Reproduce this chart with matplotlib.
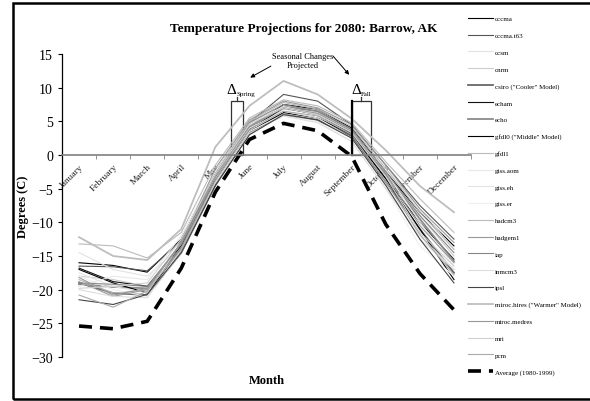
import matplotlib
matplotlib.use("Agg")
import matplotlib.pyplot as plt
from matplotlib.patches import Rectangle

plt.rcParams['font.family'] = ['Liberation Serif', 'DejaVu Serif']

months = ["January", "February", "March", "April", "May", "June", "July",
          "August", "September", "October", "November", "December"]

# model projections for 2080 (deg C)
models = ["cccma", "cccma.t63", "ccsm", "cnrm", "csiro (\"Cooler\" Model)", "echam",
          "echo", "gfdl0 (\"Middle\" Model)", "gfdl1", "giss.aom", "giss.eh", "giss.er",
          "hadcm3", "hadgem1", "iap", "inmcm3", "ipsl", "miroc.hires (\"Warmer\" Model)",
          "miroc.medres", "mri", "pcm"]

cccma = [-16.0, -16.4, -17.4, -12.5, -3.0, 4.0, 7.5, 6.8, 4.0, -2.5, -8.5, -13.5]
cccma_t63 = [-16.5, -16.6, -17.2, -12.8, -2.5, 4.8, 9.0, 8.0, 4.5, -1.5, -7.5, -12.5]
ccsm = [-14.5, -17.0, -18.0, -13.5, -3.0, 4.5, 7.0, 6.0, 3.0, -2.0, -8.0, -14.0]
cnrm = [-18.0, -18.5, -19.5, -14.0, -3.5, 4.0, 6.8, 6.2, 3.5, -3.0, -9.0, -15.0]
csiro = [-19.0, -20.5, -20.8, -14.5, -4.5, 3.2, 6.0, 5.2, 2.8, -4.0, -11.0, -17.5]
echam = [-16.8, -18.8, -19.5, -13.5, -3.8, 3.8, 7.0, 6.0, 3.2, -3.5, -10.0, -15.5]
echo = [-19.2, -19.6, -19.8, -13.8, -3.2, 4.2, 7.2, 6.5, 3.8, -2.8, -9.5, -15.8]
gfdl0 = [-17.0, -19.0, -20.5, -14.0, -4.0, 3.5, 6.3, 5.5, 3.0, -3.5, -11.0, -18.5]
gfdl1 = [-18.5, -20.5, -20.0, -13.0, -2.5, 5.0, 7.8, 6.8, 4.2, -2.0, -8.5, -14.0]
giss_aom = [-19.5, -18.0, -18.5, -12.0, -2.5, 4.8, 7.2, 6.0, 3.5, -2.5, -10.0, -16.5]
giss_eh = [-17.5, -19.5, -20.5, -13.0, -3.0, 4.0, 6.5, 5.5, 2.5, -4.5, -12.5, -17.0]
giss_er = [-18.0, -20.0, -21.0, -14.0, -4.0, 3.5, 6.0, 5.0, 2.0, -5.0, -13.5, -18.0]
hadcm3 = [-13.2, -13.5, -15.3, -11.5, -1.5, 5.5, 8.2, 7.3, 4.8, -1.0, -6.5, -11.5]
hadgem1 = [-18.8, -21.0, -20.0, -13.0, -3.0, 4.2, 7.0, 6.2, 3.5, -3.0, -10.5, -16.0]
iap = [-19.0, -19.2, -19.5, -13.2, -2.8, 4.8, 7.5, 6.5, 3.8, -2.5, -9.0, -14.5]
inmcm3 = [-20.0, -21.0, -21.2, -14.5, -4.2, 3.2, 5.8, 4.8, 2.0, -5.0, -12.0, -17.0]
ipsl = [-21.5, -22.2, -20.7, -14.5, -4.5, 3.0, 6.0, 5.2, 2.5, -4.5, -12.5, -19.0]
miroc_hires = [-12.2, -15.0, -15.6, -11.0, 1.2, 7.3, 11.0, 9.0, 5.4, 0.7, -4.6, -8.5]
miroc_medres = [-18.2, -20.8, -19.8, -13.0, -2.0, 5.2, 8.0, 7.0, 4.5, -1.5, -8.0, -13.0]
mri = [-19.8, -19.5, -19.0, -12.5, -2.8, 4.6, 7.0, 6.0, 3.3, -3.2, -11.5, -16.5]
pcm = [-20.8, -22.6, -20.2, -14.0, -3.8, 3.8, 6.5, 5.8, 3.0, -4.0, -11.8, -17.8]

average = [-25.4, -25.8, -24.7, -16.8, -5.5, 2.3, 4.7, 3.6, -0.2, -10.3, -17.6, -23.0]

series = [cccma, cccma_t63, ccsm, cnrm, csiro, echam, echo, gfdl0, gfdl1, giss_aom,
          giss_eh, giss_er, hadcm3, hadgem1, iap, inmcm3, ipsl, miroc_hires,
          miroc_medres, mri, pcm]
colors = ["#000000", "#555555", "#e2e2e2", "#cccccc", "#666666", "#111111",
          "#8a8a8a", "#000000", "#bbbbbb", "#e8e8e8", "#e4e4e4", "#eeeeee",
          "#bbbbbb", "#999999", "#888888", "#dddddd", "#444444", "#bdbdbd",
          "#999999", "#d0d0d0", "#aaaaaa"]
widths = [1.0, 1.0, 1.0, 1.0, 1.6, 1.0, 1.6, 1.0, 1.0, 1.0, 1.0, 1.0,
          1.0, 1.0, 1.0, 1.0, 1.0, 1.6, 1.0, 1.0, 1.0]

fig = plt.figure(figsize=(5.9, 4.02), dpi=100)
ax = fig.add_axes([62/590, 1-358/402, (471-62)/590, (358-55)/402])

x = list(range(len(months)))
for name, vals, c, w in zip(models, series, colors, widths):
    ax.plot(x, vals, color=c, lw=w*0.8, label=name)
ax.plot(x, average, color="black", lw=2.6, dashes=(3.6, 2.2), label="Average (1980-1999)")

ax.set_xlim(-0.5, 11.5)
ax.set_ylim(-30, 15)
ax.set_yticks(range(-30, 16, 5))
ax.tick_params(axis='y', labelsize=10, length=3, direction='out', width=0.8)

for s in ["top", "right"]:
    ax.spines[s].set_visible(False)
ax.spines['bottom'].set_position(('data', 0))
ax.spines['bottom'].set_color('#808080')
ax.spines['bottom'].set_linewidth(1.2)
ax.spines['left'].set_linewidth(0.9)

ax.set_xticks(x)
ax.set_xticklabels(months, rotation=45, ha='right', va='top', rotation_mode='anchor',
                   fontsize=6.8, color='#222222')
ax.tick_params(axis='x', which='major', length=0, pad=5)
ax.set_xticks([i - 0.5 for i in range(13)], minor=True)
ax.tick_params(axis='x', which='minor', length=3, direction='out', color='#808080')

ax.set_ylabel("Degrees (C)", fontsize=9, fontweight='bold')
ax.yaxis.set_label_coords(-0.08, 0.5)
ax.set_xlabel("Month", fontsize=9, fontweight='bold')
ax.xaxis.set_label_coords(0.5, -0.055)
ax.set_title("Temperature Projections for 2080: Barrow, AK", fontsize=9.5,
             fontweight='bold', x=0.59, y=1.05)

# seasonal change boxes
ax.add_patch(Rectangle((4.47, 0), 0.33, 8, fill=False, ec='#333333', lw=0.9))
ax.plot([4.635, 4.635], [8, 8.6], color='#333333', lw=0.9)
ax.text(4.62, 8.7, "\u0394", fontsize=11, ha='right', va='bottom')
ax.text(4.62, 8.8, "Spring", fontsize=5, ha='left', va='bottom')
ax.add_patch(Rectangle((8.0, 0), 0.56, 8, fill=False, ec='#333333', lw=0.9))
ax.plot([8.0, 8.0], [0, 8], color='black', lw=1.6)
ax.plot([8.28, 8.28], [8, 8.6], color='#333333', lw=0.9)
ax.text(8.28, 8.7, "\u0394", fontsize=11, ha='right', va='bottom')
ax.text(8.28, 8.8, "Fall", fontsize=5, ha='left', va='bottom')

ax.text(6.55, 14.0, "Seasonal Changes\nProjected", fontsize=6, ha='center', va='center',
        linespacing=1.1)
ax.annotate("", xy=(4.95, 11.3), xytext=(5.7, 13.4),
            arrowprops=dict(arrowstyle='-|>', color='black', lw=0.7, mutation_scale=6))
ax.annotate("", xy=(7.98, 11.6), xytext=(7.4, 15.0),
            arrowprops=dict(arrowstyle='-|>', color='black', lw=0.7, mutation_scale=6))

fig.legend(loc='upper left', bbox_to_anchor=(468/590, 1-16.5/402), frameon=False,
           fontsize=5, handlelength=3.6, handletextpad=0.3, labelspacing=1.57,
           borderpad=0, borderaxespad=0)

fig.patches.append(Rectangle((13/590, 2/402), 1.0, 396/402, transform=fig.transFigure,
                             fill=False, ec='black', lw=1.8))

fig.savefig("out.png", dpi=100)
